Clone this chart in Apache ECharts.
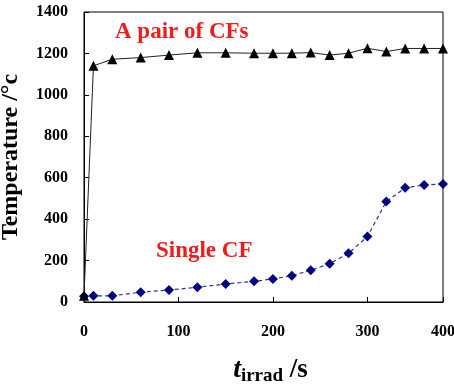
<!DOCTYPE html>
<html>
<head>
<meta charset="utf-8">
<script src="https://cdn.jsdelivr.net/npm/echarts@6/dist/echarts.min.js"></script>
<style>html,body{margin:0;padding:0;background:#fff}#c{width:454px;height:391px}</style>
</head>
<body>
<div id="c"></div>
<script>
// time (s)
const timeSec = [0, 10, 30, 60, 90, 120, 150, 180, 200, 220, 240, 260, 280, 300, 320, 340, 360, 380];
// temperature, pair of CFs
const pairTemp = [30, 1140, 1172, 1180, 1192, 1203, 1203, 1201, 1201, 1201, 1204, 1192, 1201, 1225, 1209, 1224, 1224, 1224];
// temperature, single CF
const singleTemp = [28, 30, 30, 47, 58, 71, 87, 100, 111, 127, 153, 185, 235, 316, 485, 551, 565, 570];
const xTickLabels = ['0', '100', '200', '300', '400'];
const yTickLabels = ['0', '200', '400', '600', '800', '1000', '1200', '1400'];
const seriesNames = ['A pair of CFs', 'Single CF'];

const font = 'Liberation Serif';
const chart = echarts.init(document.getElementById('c'), null, {renderer: 'canvas'});
chart.setOption({
  animation: false,
  backgroundColor: '#fff',
  grid: {left: 84, right: 11, top: 12, bottom: 89, show: true, borderColor: '#000', borderWidth: 1,
    backgroundColor: 'transparent', containLabel: false, outerBoundsMode: 'none'},
  xAxis: {
    type: 'value', min: 0, max: 380, interval: 100,
    axisLine: {lineStyle: {color: '#000', width: 1}},
    axisTick: {inside: true, length: 5, lineStyle: {color: '#000'}},
    splitLine: {show: false},
    axisLabel: {margin: 22, color: '#000', fontFamily: font, fontWeight: 'bold', fontSize: 16,
      showMaxLabel: true,
      formatter: (v, i) => xTickLabels[i]},
    name: '{t|t}{s|irrad}{u| /s}',
    nameLocation: 'middle', nameGap: 52,
    nameTextStyle: {
      padding: [0, 0, 0, 14],
      rich: {
        t: {fontFamily: font, fontWeight: 'bold', fontStyle: 'italic', fontSize: 28, color: '#000'},
        s: {fontFamily: font, fontWeight: 'bold', fontSize: 19, color: '#000', padding: [13, 0, 0, 0]},
        u: {fontFamily: font, fontWeight: 'bold', fontSize: 27, color: '#000'}
      }
    }
  },
  yAxis: {
    type: 'value', min: 0, max: 1400, interval: 200,
    axisLine: {show: true, lineStyle: {color: '#000', width: 1}},
    axisTick: {show: true, inside: true, length: 5, lineStyle: {color: '#000'}},
    splitLine: {show: false},
    axisLabel: {margin: 16, color: '#000', fontFamily: font, fontWeight: 'bold', fontSize: 16,
      formatter: (v, i) => yTickLabels[i]},
    name: 'Temperature /°c',
    nameLocation: 'middle', nameGap: 61, nameRotate: 90,
    nameTextStyle: {fontFamily: font, fontWeight: 'bold', fontSize: 24, color: '#000'}
  },
  series: [
    {
      name: seriesNames[1], type: 'line',
      data: timeSec.map((t, i) => [t, singleTemp[i]]),
      symbol: 'diamond', symbolSize: 10,
      itemStyle: {color: '#000080'},
      lineStyle: {color: '#33338f', width: 1.2, type: [4, 3]},
      z: 2
    },
    {
      name: seriesNames[0], type: 'line',
      data: timeSec.map((t, i) => [t, pairTemp[i]]),
      symbol: 'triangle', symbolSize: 10,
      itemStyle: {color: '#000'},
      lineStyle: {color: '#222', width: 1},
      z: 3
    }
  ],
  graphic: [
    {type: 'text', left: 115, top: 21, style: {text: seriesNames[0], fill: '#ee1c1c', font: 'bold 23px "Liberation Serif"'}},
    {type: 'text', left: 156, top: 240, style: {text: seriesNames[1], fill: '#ee1c1c', font: 'bold 23px "Liberation Serif"'}}
  ]
});
</script>
</body>
</html>
